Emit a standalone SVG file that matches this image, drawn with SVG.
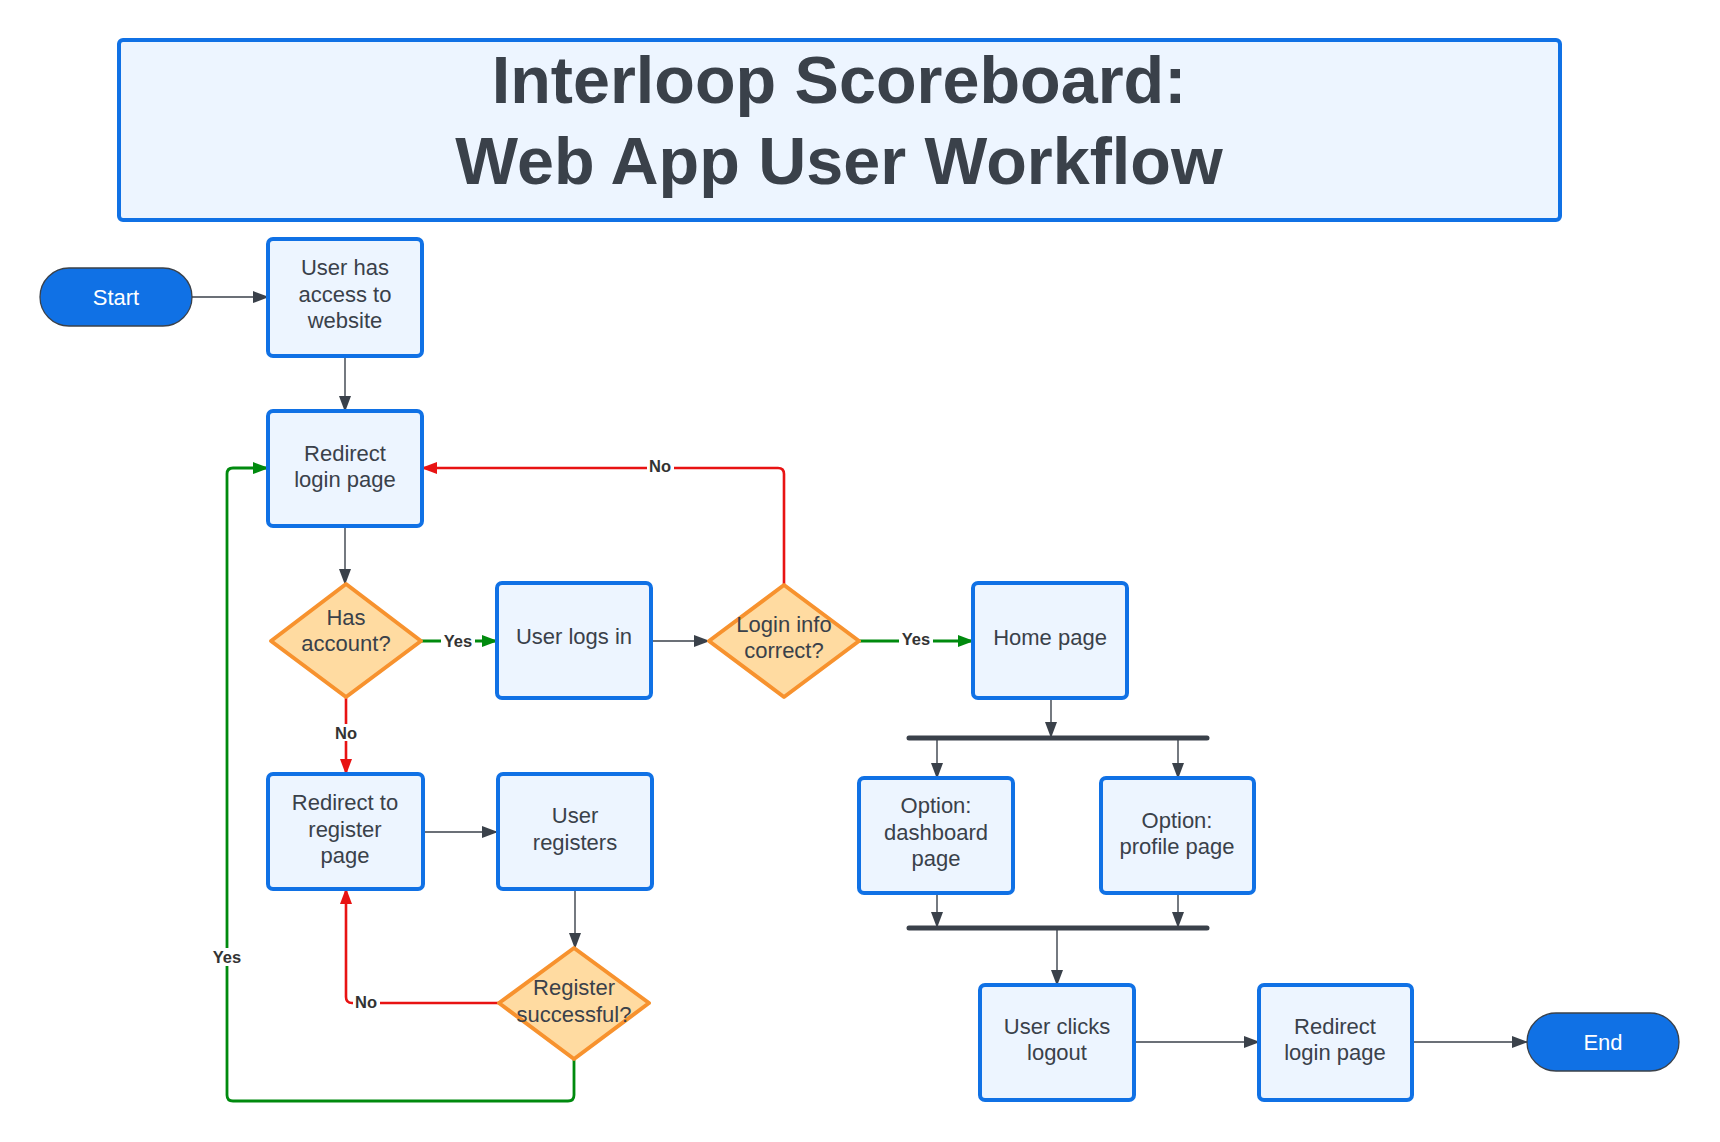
<svg xmlns="http://www.w3.org/2000/svg" width="1720" height="1142" viewBox="0 0 1720 1142">
<style>
.box{fill:#edf5ff;stroke:#1071e5;stroke-width:4}
.dia{fill:#ffdba1;stroke:#f7922e;stroke-width:4;stroke-linejoin:round}
.pill{fill:#1071e5;stroke:#3a414a;stroke-width:1.3}
.t{font-family:"Liberation Sans",Arial,sans-serif;font-size:22px;fill:#3a414a;text-anchor:middle}
.tw{font-family:"Liberation Sans",Arial,sans-serif;font-size:22px;fill:#ffffff;text-anchor:middle}
.title{font-family:"Liberation Sans",Arial,sans-serif;font-size:66.5px;font-weight:bold;fill:#3a414a;text-anchor:middle}
.lbl{font-family:"Liberation Sans",Arial,sans-serif;font-size:16.5px;font-weight:bold;fill:#333333;text-anchor:middle}
.c{fill:none;stroke:#3a414a;stroke-width:1.4}
.r{fill:none;stroke:#e81313;stroke-width:2.6}
.g{fill:none;stroke:#008a0e;stroke-width:2.8}
.bar{stroke:#3a414a;stroke-width:5;stroke-linecap:round}
.lb{fill:#ffffff}
</style>
<defs>
<marker id="ad" markerUnits="userSpaceOnUse" markerWidth="16" markerHeight="12" refX="15" refY="6" orient="auto"><path d="M0,0 L16,6 L0,12 z" fill="#3a414a"/></marker>
<marker id="ar" markerUnits="userSpaceOnUse" markerWidth="16" markerHeight="12" refX="15" refY="6" orient="auto"><path d="M0,0 L16,6 L0,12 z" fill="#e81313"/></marker>
<marker id="ag" markerUnits="userSpaceOnUse" markerWidth="16" markerHeight="12" refX="15" refY="6" orient="auto"><path d="M0,0 L16,6 L0,12 z" fill="#008a0e"/></marker>
</defs>
<rect width="1720" height="1142" fill="#ffffff"/>

<g id="title">
<rect x="119" y="40" width="1441" height="180" rx="4" class="box" stroke-width="3.5"/>
<text class="title" x="839" y="103">Interloop Scoreboard:</text>
<text class="title" x="839" y="184">Web App User Workflow</text>
</g>

<g id="connectors">
<path class="c" d="M192,297 H268" marker-end="url(#ad)"/>
<path class="c" d="M345,356 V411" marker-end="url(#ad)"/>
<path class="c" d="M345,526 V584" marker-end="url(#ad)"/>
<path class="g" d="M421,641 H497" marker-end="url(#ag)"/>
<path class="c" d="M651,641 H709" marker-end="url(#ad)"/>
<path class="r" d="M784,585 V474 Q784,468 778,468 H422" marker-end="url(#ar)"/>
<path class="g" d="M859,641 H973" marker-end="url(#ag)"/>
<path class="r" d="M346,697 V774" marker-end="url(#ar)"/>
<path class="c" d="M423,832 H497" marker-end="url(#ad)"/>
<path class="c" d="M575,889 V948" marker-end="url(#ad)"/>
<path class="r" d="M499,1003 H352 Q346,1003 346,997 V889" marker-end="url(#ar)"/>
<path class="g" d="M574,1059 V1095 Q574,1101 568,1101 H233 Q227,1101 227,1095 V474 Q227,468 233,468 H268" marker-end="url(#ag)"/>
<path class="c" d="M1051,698 V737" marker-end="url(#ad)"/>
<line class="bar" x1="909" y1="738" x2="1207" y2="738"/>
<path class="c" d="M937,740 V778" marker-end="url(#ad)"/>
<path class="c" d="M1178,740 V778" marker-end="url(#ad)"/>
<path class="c" d="M937,893 V927" marker-end="url(#ad)"/>
<path class="c" d="M1178,893 V927" marker-end="url(#ad)"/>
<line class="bar" x1="909" y1="928" x2="1207" y2="928"/>
<path class="c" d="M1057,930 V985" marker-end="url(#ad)"/>
<path class="c" d="M1134,1042 H1259" marker-end="url(#ad)"/>
<path class="c" d="M1412,1042 H1527" marker-end="url(#ad)"/>
<rect class="lb" x="441" y="632" width="34" height="18"/>
<text class="lbl" x="458" y="647">Yes</text>
<rect class="lb" x="899" y="631" width="34" height="18"/>
<text class="lbl" x="916" y="645">Yes</text>
<rect class="lb" x="647" y="459" width="27" height="17"/>
<text class="lbl" x="660" y="472">No</text>
<rect class="lb" x="333" y="724" width="27" height="17"/>
<text class="lbl" x="346" y="739">No</text>
<rect class="lb" x="353" y="994" width="27" height="17"/>
<text class="lbl" x="366" y="1008">No</text>
<rect class="lb" x="210" y="948" width="34" height="18"/>
<text class="lbl" x="227" y="963">Yes</text>
</g>

<g id="start">
<rect class="pill" x="40" y="268" width="152" height="58" rx="29"/>
<text class="tw" x="116" y="305">Start</text>
</g>
<g id="access">
<rect class="box" x="268" y="239" width="154" height="117" rx="5"/>
<text class="t" x="345" y="275">User has</text>
<text class="t" x="345" y="302">access to</text>
<text class="t" x="345" y="328">website</text>
</g>
<g id="login-page">
<rect class="box" x="268" y="411" width="154" height="115" rx="5"/>
<text class="t" x="345" y="461">Redirect</text>
<text class="t" x="345" y="487">login page</text>
</g>
<g id="has-account">
<path class="dia" d="M346,584 L421,641 L346,697 L271,641 Z"/>
<text class="t" x="346" y="625">Has</text>
<text class="t" x="346" y="651">account?</text>
</g>
<g id="logs-in">
<rect class="box" x="497" y="583" width="154" height="115" rx="5"/>
<text class="t" x="574" y="644">User logs in</text>
</g>
<g id="login-correct">
<path class="dia" d="M784,585 L859,641 L784,697 L709,641 Z"/>
<text class="t" x="784" y="632">Login info</text>
<text class="t" x="784" y="658">correct?</text>
</g>
<g id="home">
<rect class="box" x="973" y="583" width="154" height="115" rx="5"/>
<text class="t" x="1050" y="645">Home page</text>
</g>
<g id="register-page">
<rect class="box" x="268" y="774" width="155" height="115" rx="5"/>
<text class="t" x="345" y="810">Redirect to</text>
<text class="t" x="345" y="837">register</text>
<text class="t" x="345" y="863">page</text>
</g>
<g id="registers">
<rect class="box" x="498" y="774" width="154" height="115" rx="5"/>
<text class="t" x="575" y="823">User</text>
<text class="t" x="575" y="850">registers</text>
</g>
<g id="register-ok">
<path class="dia" d="M574,948 L649,1003 L574,1059 L499,1003 Z"/>
<text class="t" x="574" y="995">Register</text>
<text class="t" x="574" y="1022">successful?</text>
</g>
<g id="dashboard">
<rect class="box" x="859" y="778" width="154" height="115" rx="5"/>
<text class="t" x="936" y="813">Option:</text>
<text class="t" x="936" y="840">dashboard</text>
<text class="t" x="936" y="866">page</text>
</g>
<g id="profile">
<rect class="box" x="1101" y="778" width="153" height="115" rx="5"/>
<text class="t" x="1177" y="828">Option:</text>
<text class="t" x="1177" y="854">profile page</text>
</g>
<g id="logout">
<rect class="box" x="980" y="985" width="154" height="115" rx="5"/>
<text class="t" x="1057" y="1034">User clicks</text>
<text class="t" x="1057" y="1060">logout</text>
</g>
<g id="login-page-2">
<rect class="box" x="1259" y="985" width="153" height="115" rx="5"/>
<text class="t" x="1335" y="1034">Redirect</text>
<text class="t" x="1335" y="1060">login page</text>
</g>
<g id="end">
<rect class="pill" x="1527" y="1013" width="152" height="58" rx="29"/>
<text class="tw" x="1603" y="1050">End</text>
</g>
</svg>
